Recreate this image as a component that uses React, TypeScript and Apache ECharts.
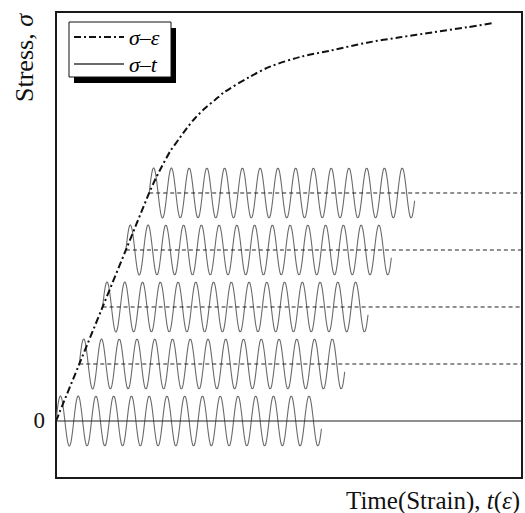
import React, { useEffect, useRef } from "react";
import * as echarts from "echarts";

// σ–ε curve (x: strain/time units 0..100, y: stress units, level spacing = 1)
const curveX = [0, 5, 10, 15, 19.81, 21.24, 22.32, 24.46, 26.24, 28.05, 29.83, 31.97, 34.12, 36.27, 41.63, 45.92, 52.36, 58.8, 66.74, 73.82, 80.9, 88.2, 93.5];
const curveY = [0, 1, 2, 3, 3.965, 4.228, 4.404, 4.725, 4.93, 5.135, 5.311, 5.486, 5.632, 5.777, 6.04, 6.216, 6.386, 6.496, 6.637, 6.732, 6.819, 6.907, 6.977];

// σ–t oscillations: stress level, start on the σ–ε curve, amplitude, period, cycles
const waveLevels = [0, 1, 2, 3, 4];
const waveStartX = [0, 5, 10, 15, 20];
const waveAmplitude = 0.44;
const wavePeriod = 3.81;
const waveCycles = 14.95;

// dashed mean-stress lines (level 0 is the solid zero line)
const dashLevels = [1, 2, 3, 4];
const dashStartX = [5, 10, 15, 20];

const xMin = 0;
const xMax = 100;
const yMin = -1;
const yMax = 7.175;
const yTickLabels = ["0"];

const SERIF = '"Liberation Serif", "Times New Roman", serif';

function buildWave(level: number, x0: number) {
  const pts: number[][] = [];
  const total = wavePeriod * waveCycles;
  const steps = Math.round(waveCycles * 32);
  for (let i = 0; i <= steps; i++) {
    const t = (total * i) / steps;
    pts.push([x0 + t, level + waveAmplitude * Math.sin((2 * Math.PI * t) / wavePeriod)]);
  }
  return pts;
}

export default function App() {
  const ref = useRef<HTMLDivElement>(null);
  useEffect(() => {
    if (!ref.current) return;
    const chart = echarts.init(ref.current, undefined, { renderer: "svg" });

    const waveSeries = waveLevels.map((lv, i) => ({
      name: "σ–t",
      type: "line",
      data: buildWave(lv, waveStartX[i]),
      showSymbol: false,
      symbol: "none",
      symbolSize: 0,
      smooth: false,
      lineStyle: { color: "#6a6a6a", width: 1.1 },
      itemStyle: { color: "#6a6a6a" },
      z: 2,
    }));

    const dashSeries = dashLevels.map((lv, i) => ({
      name: "dash" + lv,
      type: "line",
      data: [
        [dashStartX[i], lv],
        [xMax, lv],
      ],
      showSymbol: false,
      symbol: "none",
      lineStyle: { color: "#222", width: 1, type: [4, 3] },
      z: 3,
    }));

    const option: any = {
      animation: false,
      grid: {
        left: 56,
        right: 3,
        top: 12,
        bottom: 35,
        show: true,
        borderColor: "#1a1a1a",
        borderWidth: 2,
        backgroundColor: "transparent",
      },
      xAxis: {
        type: "value",
        min: xMin,
        max: xMax,
        axisLine: { show: false },
        axisTick: { show: false },
        axisLabel: { show: false },
        splitLine: { show: false },
      },
      yAxis: {
        type: "value",
        min: yMin,
        max: yMax,
        interval: 1,
        axisLine: { show: false },
        axisTick: { show: false },
        splitLine: { show: false },
        axisLabel: {
          margin: 11,
          fontFamily: SERIF,
          fontSize: 23,
          color: "#111",
          showMaxLabel: false,
          formatter: (v: number) => (Math.abs(v) < 1e-9 ? yTickLabels[0] : ""),
        },
      },
      legend: {
        left: 73,
        top: 26,
        orient: "vertical",
        padding: 0,
        itemGap: 5,
        itemWidth: 50,
        itemHeight: 14,
        z: 6,
        itemStyle: { opacity: 0, borderWidth: 0 },
        data: [{ name: "σ–ε" }, { name: "σ–t" }],
        textStyle: {
          fontFamily: SERIF,
          fontStyle: "italic",
          fontSize: 22,
          lineHeight: 22,
          color: "#000",
        },
      },
      graphic: [
        {
          type: "rect",
          z: 4,
          shape: { x: 74, y: 28, width: 102, height: 55 },
          style: { fill: "#000" },
        },
        {
          type: "rect",
          z: 5,
          shape: { x: 69, y: 22, width: 102, height: 55 },
          style: { fill: "#fff", stroke: "#111", lineWidth: 1 },
        },
        {
          type: "text",
          x: 24,
          y: 58,
          rotation: Math.PI / 2,
          style: {
            text: "Stress, {i|σ}",
            fontFamily: SERIF,
            fontSize: 26,
            fill: "#111",
            align: "center",
            verticalAlign: "middle",
            rich: { i: { fontFamily: SERIF, fontSize: 26, fontStyle: "italic", fill: "#111" } },
          },
        },
        {
          type: "text",
          x: 346,
          y: 500,
          style: {
            text: "Time(Strain), {i|t}({i|ε})",
            fontFamily: SERIF,
            fontSize: 25,
            fill: "#111",
            align: "left",
            verticalAlign: "middle",
            rich: { i: { fontFamily: SERIF, fontSize: 25, fontStyle: "italic", fill: "#111" } },
          },
        },
      ],
      series: [
        {
          name: "zero",
          type: "line",
          data: [
            [xMin, 0],
            [xMax, 0],
          ],
          showSymbol: false,
          symbol: "none",
          lineStyle: { color: "#222", width: 1.2 },
          z: 3,
        },
        ...dashSeries,
        ...waveSeries,
        {
          name: "σ–ε",
          type: "line",
          data: curveX.map((x, i) => [x, curveY[i]]),
          showSymbol: false,
          symbol: "none",
          symbolSize: 0,
          smooth: 0.3,
          lineStyle: { color: "#111", width: 2, type: [7, 3, 2, 3] },
          itemStyle: { color: "#111" },
          z: 4,
        },
      ],
    };
    chart.setOption(option);
    return () => chart.dispose();
  }, []);
  return (
    <div
      ref={ref}
      style={{ position: "fixed", left: 0, top: 0, width: 525, height: 513, background: "#fff" }}
    />
  );
}
